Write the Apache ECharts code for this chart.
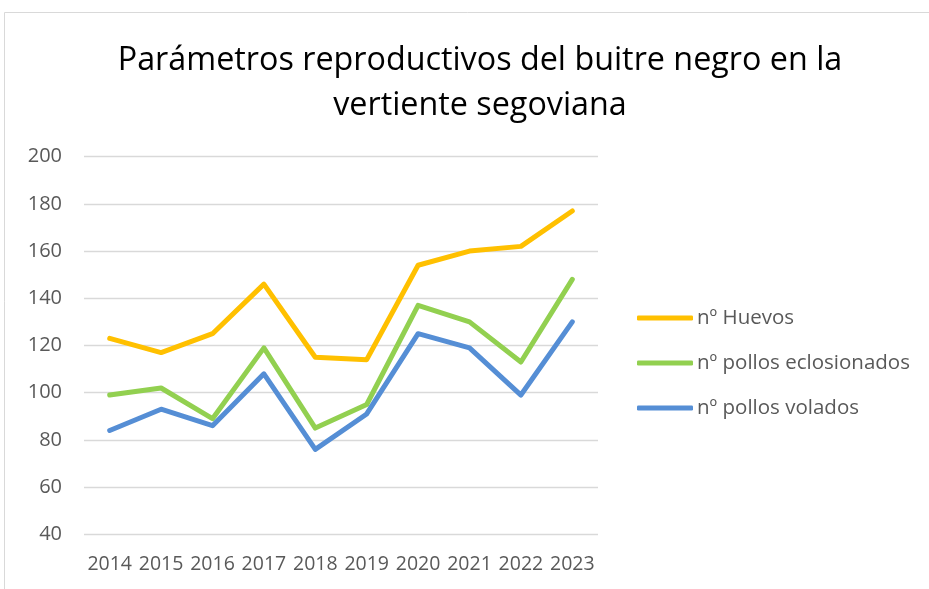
<!DOCTYPE html>
<html><head><meta charset="utf-8">
<script src="https://cdn.jsdelivr.net/npm/echarts@6/dist/echarts.min.js"></script>
<style>html,body{margin:0;padding:0;background:#fff}#c{width:929px;height:589px}</style>
</head><body><div id="c"></div>
<script>
var years = ['2014','2015','2016','2017','2018','2019','2020','2021','2022','2023'];
var huevos = [123,117,125,146,115,114,154,160,162,177];
var eclosionados = [99,102,89,119,85,95,137,130,113,148];
var volados = [84,93,86,108,76,91,125,119,99,130];
var seriesNames = ['nº Huevos','nº pollos eclosionados','nº pollos volados'];
var titleText = 'Parámetros reproductivos del buitre negro en la\nvertiente segoviana';

var chart = echarts.init(document.getElementById('c'));
var font = 'Open Sans';
chart.setOption({
  animation:false,
  backgroundColor:'#fff',
  title:{text:titleText,left:475,top:33,textAlign:'center',
    textStyle:{fontFamily:font,fontSize:32.3,fontWeight:'normal',color:'#000',lineHeight:45}},
  graphic:[{type:'rect',shape:{x:4.5,y:12.5,width:930,height:590},style:{fill:'none',stroke:'#d9d9d9',lineWidth:1},silent:true}],
  grid:{left:84,right:331,top:156.7,bottom:589-534.3},
  legend:{orient:'vertical',left:632,top:302.5,itemGap:24,itemWidth:56,itemHeight:5,
    icon:'roundRect',data:seriesNames,
    textStyle:{fontFamily:font,fontSize:20.5,color:'#595959',padding:[0,0,0,-1]}},
  xAxis:{type:'category',data:years,boundaryGap:true,
    axisLine:{show:false},axisTick:{show:false},
    axisLabel:{interval:0,hideOverlap:false,fontFamily:font,fontSize:19.5,color:'#595959',margin:20}},
  yAxis:{type:'value',min:40,max:200,interval:20,
    axisLine:{show:false},axisTick:{show:false},
    splitLine:{lineStyle:{color:'#d9d9d9',width:1.3}},
    axisLabel:{fontFamily:font,fontSize:20,color:'#595959',margin:22}},
  series:[
    {name:seriesNames[0],type:'line',data:huevos,symbol:'none',lineStyle:{width:5,color:'#FFC000',join:'round',cap:'round'},itemStyle:{color:'#FFC000'}},
    {name:seriesNames[1],type:'line',data:eclosionados,symbol:'none',lineStyle:{width:5,color:'#92D050',join:'round',cap:'round'},itemStyle:{color:'#92D050'}},
    {name:seriesNames[2],type:'line',data:volados,symbol:'none',lineStyle:{width:5,color:'#558ED5',join:'round',cap:'round'},itemStyle:{color:'#558ED5'}}
  ]
});
</script></body></html>
